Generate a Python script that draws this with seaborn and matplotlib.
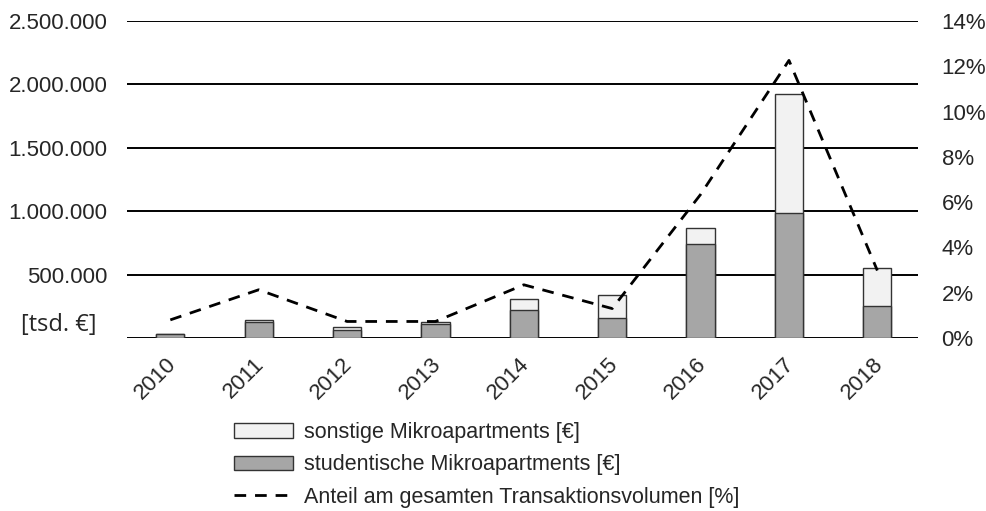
import numpy as np
import pandas as pd
import matplotlib
matplotlib.use("Agg")
import matplotlib.pyplot as plt
import matplotlib.transforms as mtransforms
import seaborn as sns
from matplotlib.patches import Patch
from matplotlib.lines import Line2D

years = ["2010", "2011", "2012", "2013", "2014", "2015", "2016", "2017", "2018"]
studentisch = [30000, 125000, 60000, 107000, 222000, 154000, 738000, 985000, 254000]
sonstige = [0, 19000, 23000, 23000, 82000, 184000, 132000, 942000, 300000]
anteil = [0.80, 2.13, 0.73, 0.73, 2.35, 1.30, 6.34, 12.26, 2.98]

left_ticks = [0, 500000, 1000000, 1500000, 2000000, 2500000]
right_ticks = [0, 2, 4, 6, 8, 10, 12, 14]

sns.set_style("white")
plt.rcParams["font.family"] = ["Liberation Sans", "DejaVu Sans"]

df = pd.DataFrame({"Jahr": years, "studentisch": studentisch, "sonstige": sonstige})
df["gesamt"] = df["studentisch"] + df["sonstige"]

fig = plt.figure(figsize=(9.87, 5.11), dpi=100)
ax = fig.add_axes([127 / 987, 1 - 338 / 511, (918 - 127) / 987, (338 - 21) / 511])

bar_w = 0.32
sns.barplot(data=df, x="Jahr", y="gesamt", color="#f2f2f2", edgecolor="#333333",
            linewidth=1.0, width=bar_w, saturation=1, ax=ax, zorder=3)
sns.barplot(data=df, x="Jahr", y="studentisch", color="#a6a6a6", edgecolor="#333333",
            linewidth=1.0, width=bar_w, saturation=1, ax=ax, zorder=4)

ax.set_xlim(-0.49, 8.46)
ax.set_ylim(0, 2500000)
ax.set_yticks(left_ticks)
ax.set_yticklabels(["" if v == 0 else f"{v:,.0f}".replace(",", ".") for v in left_ticks])
ax.yaxis.grid(True, color="black", linewidth=1.4)
ax.set_axisbelow(True)
for s in ax.spines.values():
    s.set_visible(False)
ax.set_xlabel("")
ax.set_ylabel("")
ax.tick_params(axis="y", length=0, pad=14, labelsize=16)
ax.tick_params(axis="x", length=0, pad=11, labelsize=16)
shift = mtransforms.ScaledTranslation(-5 / 100, 0, fig.dpi_scale_trans)
for lab in ax.get_xticklabels():
    lab.set_rotation(45)
    lab.set_ha("right")
    lab.set_rotation_mode("anchor")
    lab.set_transform(lab.get_transform() + shift)

ax2 = ax.twinx()
sns.lineplot(x=np.arange(len(years)), y=anteil, ax=ax2, color="black", linewidth=2.0,
             linestyle=(0, (4.2, 3.2)), zorder=5)
ax2.set_ylim(0, 14)
ax2.set_yticks(right_ticks)
ax2.set_yticklabels([f"{v}%" for v in right_ticks])
ax2.tick_params(axis="y", length=0, pad=17, labelsize=16)
for s in ax2.spines.values():
    s.set_visible(False)
ax2.set_ylabel("")

fig.text(97 / 987, 1 - 325 / 511, "[tsd. €]", fontsize=17, family=["Open Sans", "DejaVu Sans"],
         ha="right", va="center")

handles = [
    Patch(facecolor="#f2f2f2", edgecolor="#333333", linewidth=1.0),
    Patch(facecolor="#a6a6a6", edgecolor="#333333", linewidth=1.0),
    Line2D([0], [0], color="black", linewidth=2.0, linestyle=(0, (4.2, 3.2))),
]
labels = ["sonstige Mikroapartments [€]", "studentische Mikroapartments [€]",
          "Anteil am gesamten Transaktionsvolumen [%]"]
fig.legend(handles, labels, loc="upper left", bbox_to_anchor=(234 / 987, 1 - 422 / 511),
           frameon=False, fontsize=15.5, handlelength=2.75, handleheight=0.65,
           handletextpad=0.5, labelspacing=0.53, borderaxespad=0, borderpad=0)

fig.savefig("out.png", dpi=100)
